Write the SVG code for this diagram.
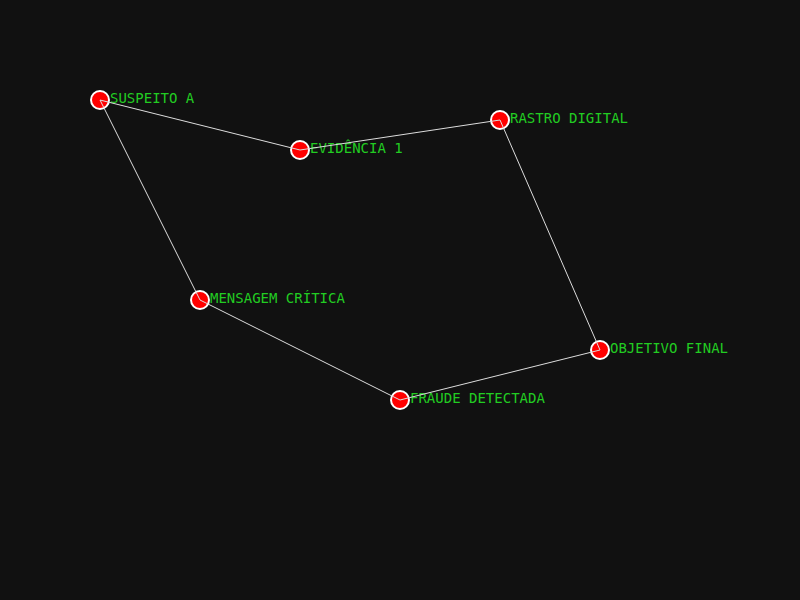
<svg xmlns="http://www.w3.org/2000/svg" width="800" height="600" viewBox="0 0 800 600">
<style>
.node circle{fill:#ff0000;stroke:#ffffff;stroke-width:2}
.node text{fill:#22cc22;font-family:"DejaVu Sans Mono","Liberation Mono",monospace;font-size:14px}
#edges line{stroke:#dddddd;stroke-width:1}
</style>
<rect width="800" height="600" fill="#111111"/>
<g id="nodes">
<g id="n-suspeito" class="node"><circle cx="100" cy="100" r="9"/><text x="110" y="103">SUSPEITO A</text></g>
<g id="n-evidencia" class="node"><circle cx="300" cy="150" r="9"/><text x="310" y="153">EVIDÊNCIA 1</text></g>
<g id="n-rastro" class="node"><circle cx="500" cy="120" r="9"/><text x="510" y="123">RASTRO DIGITAL</text></g>
<g id="n-mensagem" class="node"><circle cx="200" cy="300" r="9"/><text x="210" y="303">MENSAGEM CRÍTICA</text></g>
<g id="n-fraude" class="node"><circle cx="400" cy="400" r="9"/><text x="410" y="403">FRAUDE DETECTADA</text></g>
<g id="n-objetivo" class="node"><circle cx="600" cy="350" r="9"/><text x="610" y="353">OBJETIVO FINAL</text></g>
</g>
<g id="edges">
<line x1="100" y1="100" x2="300" y2="150"/>
<line x1="300" y1="150" x2="500" y2="120"/>
<line x1="500" y1="120" x2="600" y2="350"/>
<line x1="600" y1="350" x2="400" y2="400"/>
<line x1="400" y1="400" x2="200" y2="300"/>
<line x1="200" y1="300" x2="100" y2="100"/>
</g>
</svg>
